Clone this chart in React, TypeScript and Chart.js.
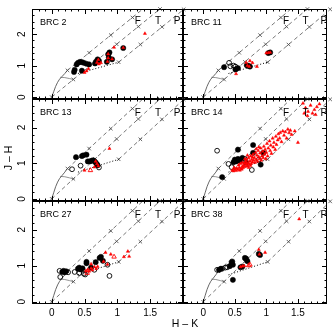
import React, { useEffect, useRef } from "react";
import { Chart, registerables } from "chart.js";
Chart.register(...registerables);

type P = [number, number];

// ---------- data ----------
const xMajorTicks = [0, 0.5, 1, 1.5];
const xMajorLabels = ["0", "0.5", "1", "1.5"];
const xMinorTicks = [-0.2, -0.1, 0.1, 0.2, 0.3, 0.4, 0.6, 0.7, 0.8, 0.9, 1.1, 1.2, 1.3, 1.4, 1.6, 1.7, 1.8, 1.9];
const yMajorTicks = [0, 1, 2];
const yMajorLabels = ["0", "1", "2"];
const yMinorTicks = [0.2, 0.4, 0.6, 0.8, 1.2, 1.4, 1.6, 1.8, 2.2, 2.4, 2.6];

const regionLabels = ["F", "T", "P"];
const regionLabelX = [1.31, 1.62, 1.91];
const regionLabelY = 2.4;

// loci and reddening lines (H-K, J-H)
const mainLocus: P[] = [[0, 0], [0.03, 0.17], [0.06, 0.34], [0.09, 0.47], [0.12, 0.57], [0.16, 0.66], [0.2, 0.75], [0.24, 0.85]];
const dwarfLocus: P[] = [[0.13, 0.63], [0.2, 0.62], [0.27, 0.59], [0.33, 0.56]];
const cttsLocus: P[] = [[0.4, 0.75], [1.02, 1.11]];
const reddeningUpper: P[] = [[0.24, 0.85], [1.5, 2.99]];
const reddeningMiddle: P[] = [[0, 0], [1.76, 2.99]];
const reddeningLower: P[] = [[1.02, 1.11], [2.13, 2.99]];
const upperMarks: P[] = [[0.24, 0.85], [0.57, 1.41], [0.9, 1.97], [1.23, 2.53]];
const middleMarks: P[] = [[0, 0], [0.33, 0.56], [0.66, 1.12], [0.99, 1.68], [1.32, 2.24], [1.65, 2.8]];
const lowerMarks: P[] = [[1.02, 1.11], [1.35, 1.67], [1.68, 2.23], [2.01, 2.79]];

// BRC 2
const brc2Filled: P[] = [[0.34, 0.8], [0.35, 0.87], [0.38, 1.04], [0.4, 1.09], [0.43, 1.12], [0.46, 1.11], [0.49, 1.09], [0.53, 1.06], [0.46, 0.84], [0.57, 1.04], [0.66, 1.07], [0.68, 1.14], [0.7, 1.2], [0.72, 1.15], [0.84, 1.12], [0.86, 1.36], [0.87, 1.26], [0.92, 1.2], [1.09, 1.56], [0.88, 1.42]];
const brc2Open: P[] = [];
const brc2Tri: P[] = [[0.5, 0.78], [0.53, 0.83], [0.56, 0.9], [0.69, 1.1], [0.72, 1.05], [0.75, 1.09], [0.85, 1.13], [0.86, 1.37], [0.92, 1.21], [1.09, 1.57], [0.95, 1.58], [1.42, 2.02], [0.86, 1.24], [0.71, 1.19]];
const brc2OpenTri: P[] = [];

// BRC 11
const brc11Filled: P[] = [[0.33, 0.95], [0.51, 0.88], [0.55, 0.92], [0.69, 1.01], [0.72, 0.99], [0.74, 0.97], [1.03, 1.4], [1.06, 1.42]];
const brc11Open: P[] = [[0.41, 1.09], [0.43, 0.98], [0.48, 1.0], [0.51, 0.97]];
const brc11Tri: P[] = [[0.52, 0.74], [0.68, 1.1], [0.7, 1.0], [0.73, 0.97], [0.74, 1.15], [0.78, 1.09], [0.85, 0.97], [1.03, 1.41], [1.06, 1.42], [1.0, 1.4]];
const brc11OpenTri: P[] = [];

// BRC 13
const brc13Filled: P[] = [[0.37, 1.17], [0.46, 1.2], [0.48, 1.22], [0.53, 1.24], [0.58, 1.05], [0.61, 1.07], [0.63, 1.08], [0.65, 1.06], [0.67, 1.02], [0.69, 0.97], [0.7, 0.94], [0.55, 1.05]];
const brc13Open: P[] = [[0.31, 0.83], [0.44, 0.93], [0.72, 0.88]];
const brc13Tri: P[] = [[0.88, 1.41], [0.5, 0.8], [0.65, 0.89], [0.67, 1.05], [0.69, 0.98], [0.71, 0.92]];
const brc13OpenTri: P[] = [[0.59, 0.8]];

// BRC 14
const brc14Filled: P[] = [[0.3, 0.61], [0.48, 1.03], [0.5, 1.1], [0.52, 1.05], [0.55, 1.12], [0.58, 1.07], [0.55, 1.38], [0.79, 1.51], [0.79, 1.29], [0.95, 1.29], [0.91, 0.96], [0.62, 1.15], [0.68, 1.02]];
const brc14Open: P[] = [[0.22, 1.35], [0.66, 1.12], [0.77, 0.81], [0.4, 0.98], [0.45, 0.89], [0.88, 1.1]];
const brc14Tri: P[] = [
  [0.46, 0.8], [0.48, 0.78], [0.5, 0.83], [0.52, 0.79], [0.53, 0.86], [0.55, 0.82], [0.57, 0.88], [0.58, 0.8], [0.6, 0.85], [0.62, 0.91], [0.49, 0.88], [0.56, 0.95], [0.59, 0.99], [0.61, 0.83], [0.63, 0.87],
  [0.64, 0.94], [0.65, 1.0], [0.66, 0.9], [0.67, 1.05], [0.68, 0.96], [0.69, 1.1], [0.7, 0.92], [0.71, 1.01], [0.72, 1.15], [0.73, 0.97], [0.74, 1.06], [0.75, 1.2], [0.76, 0.99], [0.77, 1.1], [0.78, 1.03], [0.79, 1.25], [0.8, 1.08], [0.66, 1.12], [0.7, 1.22], [0.72, 0.88], [0.75, 0.93], [0.78, 1.17], [0.68, 1.0], [0.62, 1.02],
  [0.81, 1.15], [0.82, 1.02], [0.83, 1.3], [0.84, 1.1], [0.85, 1.22], [0.86, 1.05], [0.87, 1.35], [0.88, 1.18], [0.89, 1.12], [0.9, 1.28], [0.91, 1.42], [0.92, 1.08], [0.93, 1.2], [0.94, 1.33], [0.95, 1.15], [0.96, 1.47], [0.97, 1.25], [0.98, 1.38], [0.99, 1.12], [0.84, 1.4], [0.88, 1.45],
  [1.0, 1.3], [1.01, 1.55], [1.02, 1.2], [1.03, 1.42], [1.05, 1.62], [1.06, 1.35], [1.07, 1.5], [1.08, 1.27], [1.1, 1.7], [1.11, 1.45], [1.12, 1.58], [1.14, 1.38], [1.15, 1.75], [1.16, 1.52], [1.18, 1.65], [1.19, 1.82],
  [1.21, 1.7], [1.22, 1.86], [1.24, 1.6], [1.26, 1.9], [1.28, 1.78], [1.3, 1.88], [1.32, 1.7], [1.34, 1.95], [1.36, 1.85], [1.38, 1.92], [1.4, 1.8], [1.45, 1.9], [1.5, 1.58],
  [1.58, 2.68], [1.62, 2.55], [1.66, 2.45], [1.7, 2.62], [1.73, 2.4], [1.76, 2.5], [1.8, 2.58], [1.84, 2.66], [1.65, 2.33], [1.78, 2.36], [1.6, 2.4],
];
const brc14OpenTri: P[] = [];

// BRC 27
const brc27Filled: P[] = [[0.16, 0.83], [0.18, 0.86], [0.2, 0.82], [0.22, 0.85], [0.4, 0.92], [0.42, 0.95], [0.44, 0.9], [0.47, 0.93], [0.53, 1.07], [0.53, 1.11], [0.67, 1.1], [0.73, 1.22], [0.75, 1.25], [0.78, 1.14], [0.6, 0.95]];
const brc27Open: P[] = [[0.12, 0.86], [0.13, 0.69], [0.25, 0.82], [0.42, 0.8], [0.49, 0.78], [0.51, 0.76], [0.88, 0.72], [0.85, 1.03], [0.65, 0.89], [0.35, 0.83]];
const brc27Tri: P[] = [[0.52, 0.86], [0.55, 0.9], [0.57, 0.85], [0.6, 0.93], [0.62, 0.88], [0.65, 0.97], [0.68, 0.92], [0.7, 0.98], [0.6, 1.05], [0.82, 1.37], [0.9, 1.32], [1.1, 1.25], [1.16, 1.4], [1.18, 1.26], [0.79, 1.12], [0.85, 1.04]];
const brc27OpenTri: P[] = [[0.95, 1.25], [0.54, 0.8]];

// BRC 38
const brc38Filled: P[] = [[0.25, 0.89], [0.28, 0.92], [0.42, 0.99], [0.45, 1.08], [0.47, 1.03], [0.46, 1.12], [0.66, 1.22], [0.68, 1.2], [0.7, 1.13], [0.47, 0.61], [0.88, 1.33], [0.9, 1.3], [0.59, 0.96], [0.62, 0.98]];
const brc38Open: P[] = [[0.22, 0.89], [0.3, 0.92], [0.35, 0.95], [0.38, 0.96]];
const brc38Tri: P[] = [[0.59, 0.97], [0.62, 0.99], [0.65, 1.0], [0.88, 1.45], [0.98, 1.37], [0.89, 1.32], [1.52, 2.3]];
const brc38OpenTri: P[] = [[0.72, 1.01], [0.74, 1.03]];

// ---------- layout ----------
const W = 336;
const FONT = "'Liberation Sans', Arial, Helvetica, sans-serif";
const COLS = [
  { left: 32, right: 183, min: -0.3, max: 2.0 },
  { left: 183, right: 327, min: -0.32, max: 1.96 },
];
const ROWS = [
  { top: 9, bottom: 99 },
  { top: 99, bottom: 201 },
  { top: 201, bottom: 304 },
];
const Y_MIN = -0.06;
const Y_MAX = 2.8;

interface Panel { name: string; col: number; row: number; filled: P[]; open: P[]; tri: P[]; openTri: P[]; }
const PANELS: Panel[] = [
  { name: "BRC 2", col: 0, row: 0, filled: brc2Filled, open: brc2Open, tri: brc2Tri, openTri: brc2OpenTri },
  { name: "BRC 11", col: 1, row: 0, filled: brc11Filled, open: brc11Open, tri: brc11Tri, openTri: brc11OpenTri },
  { name: "BRC 13", col: 0, row: 1, filled: brc13Filled, open: brc13Open, tri: brc13Tri, openTri: brc13OpenTri },
  { name: "BRC 14", col: 1, row: 1, filled: brc14Filled, open: brc14Open, tri: brc14Tri, openTri: brc14OpenTri },
  { name: "BRC 27", col: 0, row: 2, filled: brc27Filled, open: brc27Open, tri: brc27Tri, openTri: brc27OpenTri },
  { name: "BRC 38", col: 1, row: 2, filled: brc38Filled, open: brc38Open, tri: brc38Tri, openTri: brc38OpenTri },
];

const toXY = (arr: P[]) => arr.map(([x, y]) => ({ x, y }));

function decoPlugin(panel: Panel, index: number) {
  return {
    id: "deco" + index,
    afterDraw(chart: any) {
      const ctx = chart.ctx as CanvasRenderingContext2D;
      const xs = chart.scales.x;
      const ys = chart.scales.y;
      const { left, right, top, bottom } = chart.chartArea;
      ctx.save();
      ctx.strokeStyle = "#000";
      ctx.lineWidth = 1;
      ctx.strokeRect(left + 0.5, top + 0.5, right - left - 1, bottom - top - 1);
      ctx.beginPath();
      const tick = (vals: number[], len: number) => {
        vals.forEach((v) => {
          const px = Math.round(xs.getPixelForValue(v)) + 0.5;
          ctx.moveTo(px, bottom); ctx.lineTo(px, bottom - len);
          ctx.moveTo(px, top); ctx.lineTo(px, top + len);
        });
      };
      const ytick = (vals: number[], len: number) => {
        vals.forEach((v) => {
          const py = Math.round(ys.getPixelForValue(v)) + 0.5;
          ctx.moveTo(left, py); ctx.lineTo(left + len, py);
          ctx.moveTo(right, py); ctx.lineTo(right - len, py);
        });
      };
      tick(xMajorTicks, 5);
      tick(xMinorTicks, 2.5);
      ytick(yMajorTicks, 5);
      ytick(yMinorTicks, 2.5);
      ctx.stroke();

      ctx.fillStyle = "#000";
      ctx.font = `9px ${FONT}`;
      ctx.textAlign = "left";
      ctx.textBaseline = "middle";
      ctx.fillText(panel.name, left + 8, top + 14);

      ctx.font = `10px ${FONT}`;
      ctx.textAlign = "center";
      regionLabels.forEach((t, i) => {
        ctx.fillText(t, xs.getPixelForValue(regionLabelX[i]), ys.getPixelForValue(regionLabelY));
      });

      ctx.font = `10px ${FONT}`;
      if (panel.row === 2) {
        xMajorTicks.forEach((v, i) => {
          ctx.fillText(xMajorLabels[i], xs.getPixelForValue(v), 313);
        });
      }
      if (panel.col === 0) {
        yMajorTicks.forEach((v, i) => {
          ctx.save();
          ctx.translate(22, ys.getPixelForValue(v));
          ctx.rotate(-Math.PI / 2);
          ctx.fillText(yMajorLabels[i], 0, 0);
          ctx.restore();
        });
      }
      if (index === 0) {
        ctx.font = `10.5px ${FONT}`;
        ctx.fillText("H – K", 185, 324);
        ctx.save();
        ctx.translate(9, 158);
        ctx.rotate(-Math.PI / 2);
        ctx.fillText("J – H", 0, 0);
        ctx.restore();
      }
      ctx.restore();
    },
  };
}

function buildConfig(panel: Panel, index: number): any {
  const col = COLS[panel.col];
  const row = ROWS[panel.row];
  const lineDs = (arr: P[], color: string, dash: number[], width: number) => ({
    type: "scatter",
    data: toXY(arr),
    showLine: true,
    borderColor: color,
    borderWidth: width,
    borderDash: dash,
    pointRadius: 0,
    clip: 0,
  });
  return {
    type: "scatter",
    data: {
      datasets: [
        { data: toXY(panel.tri), pointStyle: "triangle", pointRadius: 1.8, backgroundColor: "#ff0000", borderColor: "#ff0000", borderWidth: 0.5, clip: 0 },
        { data: toXY(panel.openTri), pointStyle: "triangle", pointRadius: 2.6, backgroundColor: "rgba(0,0,0,0)", borderColor: "#ff0000", borderWidth: 0.9, clip: 0 },
        { data: toXY(panel.filled), pointStyle: "circle", pointRadius: 2.6, backgroundColor: "#000", borderColor: "#000", borderWidth: 0.5, clip: 0 },
        { data: toXY(panel.open), pointStyle: "circle", pointRadius: 2.4, backgroundColor: "rgba(0,0,0,0)", borderColor: "#000", borderWidth: 0.9, clip: 0 },
        lineDs(cttsLocus, "#000", [1, 2], 1),
        lineDs(reddeningUpper, "#555", [4, 3], 0.8),
        lineDs(reddeningMiddle, "#555", [4, 3], 0.8),
        lineDs(reddeningLower, "#555", [4, 3], 0.8),
        { data: toXY([...upperMarks, ...middleMarks, ...lowerMarks]), pointStyle: "crossRot", pointRadius: 2.5, borderColor: "#444", borderWidth: 0.8, clip: false },
        lineDs(mainLocus, "#555", [], 0.9),
        lineDs(dwarfLocus, "#777", [], 0.8),
      ],
    },
    options: {
      animation: false,
      responsive: false,
      events: [],
      layout: { padding: { left: col.left, right: W - col.right, top: row.top, bottom: W - row.bottom } },
      plugins: { legend: { display: false }, tooltip: { enabled: false }, title: { display: false } },
      scales: {
        x: { type: "linear", min: col.min, max: col.max, display: false },
        y: { type: "linear", min: Y_MIN, max: Y_MAX, display: false },
      },
    },
    plugins: [decoPlugin(panel, index)],
  };
}

export default function App() {
  const refs = useRef<(HTMLCanvasElement | null)[]>([]);
  useEffect(() => {
    const charts = PANELS.map((p, i) => new Chart(refs.current[i] as HTMLCanvasElement, buildConfig(p, i)));
    return () => charts.forEach((c) => c.destroy());
  }, []);
  return (
    <div style={{ position: "absolute", left: 0, top: 0, width: W, height: W, background: "#fff" }}>
      {PANELS.map((p, i) => (
        <canvas
          key={p.name}
          ref={(el) => { refs.current[i] = el; }}
          width={W}
          height={W}
          style={{ position: "absolute", left: 0, top: 0, width: W, height: W }}
        />
      ))}
    </div>
  );
}
